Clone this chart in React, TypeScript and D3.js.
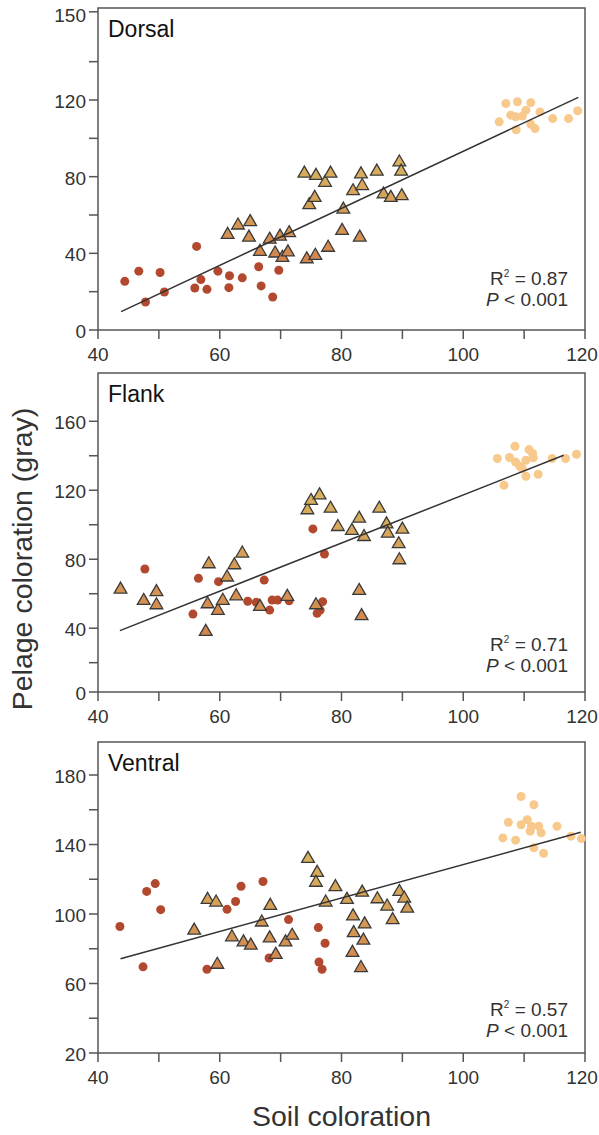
import React from "react";
import * as d3 from "d3";

// ---------- axis ticks ----------
const xTickValues = [40, 50, 60, 70, 80, 90, 100, 110, 120];
const xTickLabels = ["40", "", "60", "", "80", "", "100", "", "120"];

const dorsalYTicks = [0, 20, 40, 60, 80, 100, 120, 140, 166];
const dorsalYLabels = ["0", "", "40", "", "80", "", "120", "", "150"];
const flankYTicks = [3, 20, 40, 60, 80, 100, 120, 140, 160];
const flankYLabels = ["0", "", "40", "", "80", "", "120", "", "160"];
const ventralYTicks = [20, 40, 60, 80, 100, 120, 140, 160, 180];
const ventralYLabels = ["20", "", "60", "", "100", "", "140", "", "180"];

// ---------- Dorsal ----------
const dorsalRedX = [44.4, 46.7, 47.8, 50.2, 50.9, 56.2, 55.9, 56.9, 57.9, 59.7, 61.6, 61.5, 63.7, 66.4, 66.8, 68.7, 69.7];
const dorsalRedY = [25.4, 30.7, 14.6, 30.0, 19.8, 43.6, 21.9, 26.3, 21.2, 30.7, 28.3, 22.1, 27.2, 33.0, 23.0, 17.2, 31.2];
const dorsalTriX = [61.3, 63.0, 65.0, 64.8, 66.6, 68.2, 69.1, 69.9, 70.3, 71.2, 71.4, 73.9, 75.8, 74.7, 75.6, 77.3, 78.2, 74.3, 75.7, 77.8, 80.1, 80.3, 81.9, 83.0, 83.2, 83.4, 85.8, 86.9, 88.1, 89.5, 89.8, 89.9];
const dorsalTriY = [49.7, 54.6, 56.4, 48.3, 40.9, 47.2, 40.0, 48.8, 37.7, 40.6, 50.6, 81.7, 80.5, 65.2, 69.0, 76.9, 81.7, 37.0, 38.8, 43.0, 51.8, 62.9, 72.5, 48.3, 81.3, 75.2, 82.7, 70.8, 69.0, 87.5, 82.7, 69.9];
const dorsalLightX = [105.9, 107.0, 108.9, 111.1, 107.8, 108.6, 109.7, 110.3, 112.6, 111.1, 111.8, 108.7, 114.7, 117.3, 118.8];
const dorsalLightY = [108.6, 118.2, 119.1, 118.6, 112.1, 111.2, 111.6, 114.7, 113.8, 107.3, 105.1, 104.5, 110.3, 110.3, 114.4];
const dorsalFitX = [43.8, 118.9];
const dorsalFitY = [9.6, 121.4];

// ---------- Flank ----------
const flankRedX = [47.7, 56.5, 59.8, 55.6, 64.6, 66.0, 67.3, 68.2, 68.6, 69.5, 71.4, 75.3, 77.2, 76.9, 76.5, 76.0];
const flankRedY = [74.3, 68.9, 67.0, 48.2, 55.6, 55.0, 67.9, 50.5, 56.3, 56.3, 55.9, 97.6, 83.0, 55.4, 50.5, 48.6];
const flankTriX = [43.7, 47.5, 49.6, 49.6, 58.2, 57.7, 58.0, 59.7, 60.5, 61.2, 62.4, 63.7, 62.7, 66.6, 71.1, 74.4, 75.0, 76.4, 75.8, 78.2, 79.4, 81.7, 82.9, 83.7, 86.2, 87.4, 87.6, 89.4, 90.0, 89.5, 82.9, 83.3];
const flankTriY = [62.5, 55.9, 61.0, 53.4, 77.2, 38.0, 54.0, 50.2, 56.0, 69.5, 76.6, 83.4, 58.6, 52.5, 58.3, 108.5, 113.9, 117.1, 53.4, 109.4, 98.8, 96.5, 103.6, 93.0, 109.4, 100.3, 94.9, 88.8, 97.3, 79.5, 61.7, 47.1];
const flankLightX = [105.6, 106.7, 107.6, 108.5, 108.6, 109.3, 109.7, 110.3, 110.3, 110.8, 111.4, 111.5, 112.3, 114.6, 116.8, 118.6];
const flankLightY = [138.4, 122.9, 139.0, 145.5, 136.4, 133.9, 132.6, 128.1, 137.4, 143.6, 141.3, 138.8, 129.3, 138.4, 138.4, 140.9];
const flankFitX = [43.6, 116.5];
const flankFitY = [38.6, 140.3];

// ---------- Ventral ----------
const ventralRedX = [43.6, 47.4, 48.0, 49.4, 50.3, 57.9, 61.2, 62.6, 63.5, 67.1, 68.1, 71.3, 76.2, 77.3, 76.3, 76.8];
const ventralRedY = [92.8, 69.6, 113.0, 117.5, 102.5, 68.2, 102.7, 107.2, 116.0, 118.7, 74.7, 96.8, 92.2, 83.2, 72.4, 68.2];
const ventralTriX = [55.8, 58.0, 59.4, 59.6, 62.0, 63.9, 65.1, 66.9, 68.3, 68.2, 69.2, 70.8, 71.9, 74.5, 76.0, 75.8, 77.4, 79.0, 80.9, 81.9, 82.0, 81.8, 83.4, 83.6, 83.8, 83.2, 85.9, 87.5, 88.4, 89.5, 90.3, 90.8];
const ventralTriY = [90.5, 108.2, 106.7, 70.9, 86.7, 83.8, 81.9, 95.2, 104.8, 86.1, 76.6, 83.8, 87.6, 131.8, 123.8, 118.1, 106.7, 115.6, 108.2, 98.7, 89.1, 77.7, 112.4, 84.8, 94.1, 69.0, 108.6, 104.4, 96.6, 112.8, 109.0, 103.2];
const ventralLightX = [109.5, 111.6, 107.4, 109.5, 110.5, 111.2, 112.4, 111.0, 112.8, 115.4, 106.5, 108.6, 111.6, 113.2, 117.7, 119.4];
const ventralLightY = [167.6, 162.9, 152.8, 151.4, 154.3, 150.5, 150.5, 147.6, 146.7, 150.5, 143.8, 142.5, 138.1, 134.9, 144.8, 143.4];
const ventralFitX = [43.7, 119.3];
const ventralFitY = [74.3, 147.0];

const panelNames = ["Dorsal", "Flank", "Ventral"];
const r2Values = ["0.87", "0.71", "0.57"];
const pText = "< 0.001";

const FONT = "'Liberation Sans', Arial, Helvetica, sans-serif";
const RED = "#b2492f";
const LIGHT = "#f8c98c";
const TRI_ORANGE = "#d2864f";
const TRI_YELLOW = "#d8b25e";
const AXIS = "#555";
const TEXT = "#333";

const W = 599;
const H = 1135;
const LEFT = 98;
const RIGHT = 585;

type PanelProps = {
  top: number;
  bottom: number;
  yDomain: [number, number];
  yTicks: number[];
  yLabels: string[];
  redX: number[];
  redY: number[];
  triX: number[];
  triY: number[];
  lightX: number[];
  lightY: number[];
  fitX: number[];
  fitY: number[];
  name: string;
  r2: string;
  statOffset: number;
};

function Panel(p: PanelProps) {
  const x = d3.scaleLinear().domain([40, 120]).range([LEFT, RIGHT]);
  const y = d3.scaleLinear().domain(p.yDomain).range([p.bottom, p.top]);
  const triExt = d3.extent(p.triY) as [number, number];
  const triColor = d3
    .scaleLinear<string>()
    .domain(triExt)
    .range([TRI_ORANGE, TRI_YELLOW])
    .clamp(true);
  const tri = d3.symbol().type(d3.symbolTriangle).size(70)();
  const line = d3
    .line<number>()
    .x((_, i) => x(p.fitX[i]))
    .y((_, i) => y(p.fitY[i]));

  return (
    <g>
      <rect
        x={LEFT}
        y={p.top}
        width={RIGHT - LEFT}
        height={p.bottom - p.top}
        fill="none"
        stroke={AXIS}
        strokeWidth={1.5}
      />
      {p.yTicks.map((t, i) => (
        <g key={"yt" + i}>
          <line x1={LEFT - 9} x2={LEFT} y1={y(t)} y2={y(t)} stroke={AXIS} strokeWidth={1.5} />
          {p.yLabels[i] && (
            <text
              x={LEFT - 12}
              y={Math.max(y(t) + 1, 15)}
              dy="0.36em"
              textAnchor="end"
              fontSize={19}
              fontFamily={FONT}
              fill={TEXT}
            >
              {p.yLabels[i]}
            </text>
          )}
        </g>
      ))}
      {xTickValues.map((t, i) => (
        <g key={"xt" + i}>
          <line x1={x(t)} x2={x(t)} y1={p.bottom} y2={p.bottom + 9} stroke={AXIS} strokeWidth={1.5} />
          {xTickLabels[i] && (
            <text
              x={Math.min(x(t), W - 17)}
              y={p.bottom + 31}
              textAnchor="middle"
              fontSize={19}
              fontFamily={FONT}
              fill={TEXT}
            >
              {xTickLabels[i]}
            </text>
          )}
        </g>
      ))}
      {p.redX.map((v, i) => (
        <circle key={"r" + i} cx={x(v)} cy={y(p.redY[i])} r={4.5} fill={RED} />
      ))}
      {p.lightX.map((v, i) => (
        <circle key={"l" + i} cx={x(v)} cy={y(p.lightY[i])} r={4.5} fill={LIGHT} />
      ))}
      {p.triX.map((v, i) => (
        <path
          key={"t" + i}
          d={tri || ""}
          transform={`translate(${x(v)},${y(p.triY[i])})`}
          fill={triColor(p.triY[i])}
          stroke="#3a3a3a"
          strokeWidth={1.3}
        />
      ))}
      <path d={line(p.fitX) || ""} fill="none" stroke="#333" strokeWidth={1.5} />
      <text x={LEFT + 10} y={p.top + 29} fontSize={23} fontFamily={FONT} fill="#111">
        {p.name}
      </text>
      <text
        x={RIGHT - 17}
        y={p.bottom - p.statOffset}
        textAnchor="end"
        fontSize={19}
        fontFamily={FONT}
        fill={TEXT}
      >
        R
        <tspan dy={-8} fontSize={10}>
          2
        </tspan>
        <tspan dy={8}>{" = " + p.r2}</tspan>
      </text>
      <text
        x={RIGHT - 17}
        y={p.bottom - p.statOffset + 21}
        textAnchor="end"
        fontSize={19}
        fontFamily={FONT}
        fill={TEXT}
      >
        <tspan fontStyle="italic">P</tspan>
        {" " + pText}
      </text>
    </g>
  );
}

export default function App() {
  return (
    <svg
      width={W}
      height={H}
      style={{ position: "absolute", left: 0, top: 0, background: "#fff" }}
    >
      <rect x={0} y={0} width={W} height={H} fill="#fff" />
      <Panel
        top={8}
        bottom={330}
        yDomain={[0, 168]}
        yTicks={dorsalYTicks}
        yLabels={dorsalYLabels}
        redX={dorsalRedX}
        redY={dorsalRedY}
        triX={dorsalTriX}
        triY={dorsalTriY}
        lightX={dorsalLightX}
        lightY={dorsalLightY}
        fitX={dorsalFitX}
        fitY={dorsalFitY}
        name={panelNames[0]}
        r2={r2Values[0]}
        statOffset={45}
      />
      <Panel
        top={373}
        bottom={692}
        yDomain={[3, 188]}
        yTicks={flankYTicks}
        yLabels={flankYLabels}
        redX={flankRedX}
        redY={flankRedY}
        triX={flankTriX}
        triY={flankTriY}
        lightX={flankLightX}
        lightY={flankLightY}
        fitX={flankFitX}
        fitY={flankFitY}
        name={panelNames[1]}
        r2={r2Values[1]}
        statOffset={41}
      />
      <Panel
        top={742}
        bottom={1053}
        yDomain={[20, 199]}
        yTicks={ventralYTicks}
        yLabels={ventralYLabels}
        redX={ventralRedX}
        redY={ventralRedY}
        triX={ventralTriX}
        triY={ventralTriY}
        lightX={ventralLightX}
        lightY={ventralLightY}
        fitX={ventralFitX}
        fitY={ventralFitY}
        name={panelNames[2]}
        r2={r2Values[2]}
        statOffset={37}
      />
      <text
        x={(LEFT + RIGHT) / 2}
        y={1126}
        textAnchor="middle"
        fontSize={28.5}
        fontFamily={FONT}
        fill={TEXT}
      >
        Soil coloration
      </text>
      <text
        transform="translate(32,559) rotate(-90)"
        textAnchor="middle"
        fontSize={28.5}
        fontFamily={FONT}
        fill={TEXT}
      >
        Pelage coloration (gray)
      </text>
    </svg>
  );
}
